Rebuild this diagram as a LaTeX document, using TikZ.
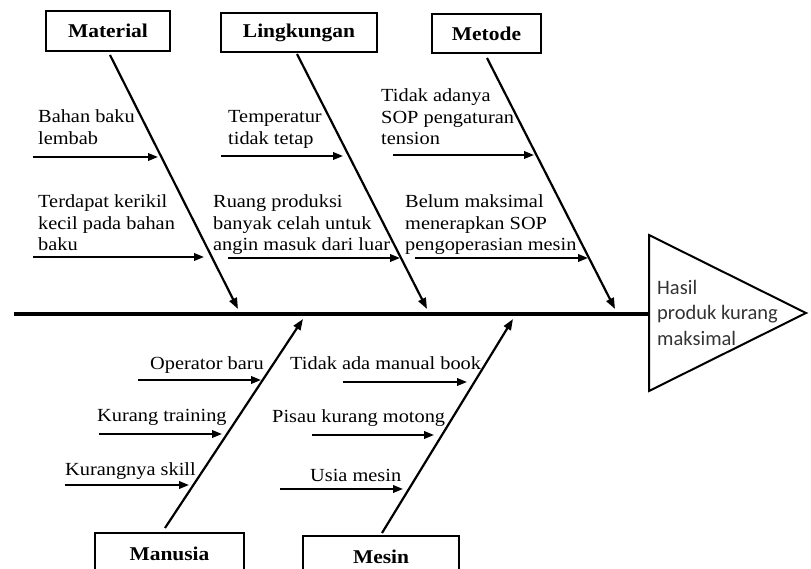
\documentclass[tikz,border=0pt]{standalone}
\usepackage{fontspec}
\setmainfont[FakeStretch=1.1]{Liberation Serif}
\newfontfamily\hasilfont{Carlito}
\usetikzlibrary{arrows.meta}
\tikzset{box/.style={draw,line width=1.3pt,inner sep=0,font=\fontsize{19.5}{22}\selectfont\bfseries},
lbl/.style={inner sep=0,align=left,anchor=base west,font=\fontsize{18.5}{21.5}\selectfont},
bone/.style={line width=2.2pt,-{Triangle[length=11pt,width=8pt]}},
sub/.style={line width=2pt,-{Triangle[length=10pt,width=7.5pt]}}}

\begin{document}
\begin{tikzpicture}[x=1pt,y=-1pt]
\useasboundingbox(0,0)rectangle(811,569);\clip(0,0)rectangle(811,569);
% categories
\node[box,minimum width=124pt,minimum height=40pt](material)at(108,31){Material};
\node[box,minimum width=156pt,minimum height=39pt](lingkungan)at(299,32.5){Lingkungan};
\node[box,minimum width=109pt,minimum height=39pt](metode)at(486.5,33.5){Metode};
\node[box,minimum width=149pt,minimum height=42pt](manusia)at(169.5,554){Manusia};
\node[box,minimum width=156pt,minimum height=42pt](mesin)at(381,557){Mesin};
% head and spine
\draw[line width=2pt](649,235)--(806,313)--(649,391)--cycle;
\node[inner sep=0,align=left,anchor=base west,text=black!80,font=\hasilfont\fontsize{20.5}{25.5}\selectfont](hasil)at(657,345){Hasil\\produk kurang\\maksimal};
\coordinate(tail)at(14,314);\coordinate(head)at(649,314);
\draw[line width=4.5pt](tail)--(head);
% bones
\coordinate(mat0)at(110,55);\coordinate(mat1)at(238,309);\draw[bone](mat0)--(mat1);
\coordinate(lin0)at(297,54);\coordinate(lin1)at(427,309);\draw[bone](lin0)--(lin1);
\coordinate(met0)at(487,58);\coordinate(met1)at(615,309);\draw[bone](met0)--(met1);
\coordinate(man0)at(165,528);\coordinate(man1)at(303,319);\draw[bone](man0)--(man1);
\coordinate(mes0)at(382,533);\coordinate(mes1)at(513,319);\draw[bone](mes0)--(mes1);
% causes, top
\node[lbl](c1)at(38,144.5){Bahan baku\\lembab};\coordinate(c1a)at(33,157);\coordinate(c1b)at(158,157);\draw[sub](c1a)--(c1b);
\node[lbl](c2)at(38,251){Terdapat kerikil\\kecil pada bahan\\baku};\coordinate(c2a)at(33,257);\coordinate(c2b)at(204,257);\draw[sub](c2a)--(c2b);
\node[lbl](c3)at(228,144.5){Temperatur\\tidak tetap};\coordinate(c3a)at(221,156);\coordinate(c3b)at(343,156);\draw[sub](c3a)--(c3b);
\node[lbl](c4)at(213,251){Ruang produksi\\banyak celah untuk\\angin masuk dari luar};\coordinate(c4a)at(228,258);\coordinate(c4b)at(400,258);\draw[sub](c4a)--(c4b);
\node[lbl](c5)at(381,145){Tidak adanya\\SOP pengaturan\\tension};\coordinate(c5a)at(393,155);\coordinate(c5b)at(534,155);\draw[sub](c5a)--(c5b);
\node[lbl](c6)at(405,251){Belum maksimal\\menerapkan SOP\\pengoperasian mesin};\coordinate(c6a)at(415,258);\coordinate(c6b)at(588,258);\draw[sub](c6a)--(c6b);
% causes, bottom
\node[lbl](c7)at(150,369){Operator baru};\coordinate(c7a)at(138,380);\coordinate(c7b)at(261,380);\draw[sub](c7a)--(c7b);
\node[lbl](c8)at(97,421){Kurang training};\coordinate(c8a)at(99,434);\coordinate(c8b)at(222,434);\draw[sub](c8a)--(c8b);
\node[lbl](c9)at(65,475){Kurangnya skill};\coordinate(c9a)at(65,485);\coordinate(c9b)at(189,485);\draw[sub](c9a)--(c9b);
\node[lbl](c10)at(290,369){Tidak ada manual book};\coordinate(c10a)at(343,382);\coordinate(c10b)at(467,382);\draw[sub](c10a)--(c10b);
\node[lbl](c11)at(272,422){Pisau kurang motong};\coordinate(c11a)at(312,435);\coordinate(c11b)at(434,435);\draw[sub](c11a)--(c11b);
\node[lbl](c12)at(310,481){Usia mesin};\coordinate(c12a)at(280,489);\coordinate(c12b)at(403,489);\draw[sub](c12a)--(c12b);
\end{tikzpicture}
\end{document}
